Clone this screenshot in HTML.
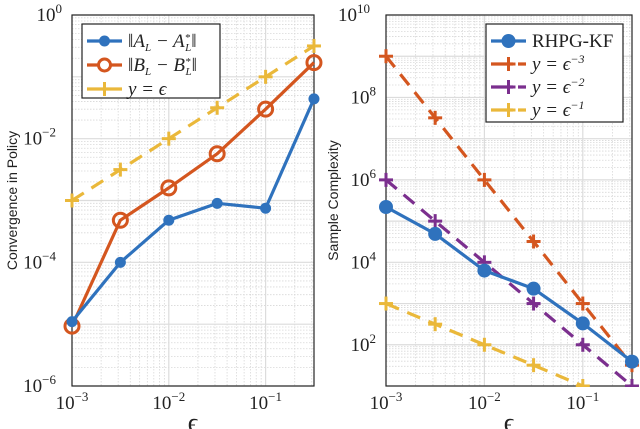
<!DOCTYPE html>
<html><head><meta charset="utf-8"><style>
html,body{margin:0;padding:0;background:#fff;}
svg{display:block;font-family:"Liberation Serif",serif;}
</style></head><body>
<svg id="c" width="640" height="429" viewBox="0 0 640 429"></svg>
<script>
const eps = [1e-3, 3.16e-3, 1e-2, 3.16e-2, 1e-1, 3.16e-1];
const normA = [1.1e-5, 1e-4, 4.8e-4, 9e-4, 7.5e-4, 4.4e-2];
const normB = [9.3e-6, 4.8e-4, 1.6e-3, 5.7e-3, 3e-2, 0.17];
const yEps = [1e-3, 3.16e-3, 1e-2, 3.16e-2, 1e-1, 3.16e-1];
const rhpg = [2.2e5, 4.9e4, 6.3e3, 2.3e3, 3.3e2, 39];
const epsM3 = [1e9, 3.2e7, 1e6, 3.2e4, 1e3, 32];
const epsM2 = [1e6, 1e5, 1e4, 1e3, 1e2, 10];
const epsM1 = [1e3, 316, 100, 32, 10, 3.2];
const xTicks = [-3, -2, -1];
const yTicksL = [-6, -4, -2, 0];
const yTicksR = [2, 4, 6, 8, 10];

const NS = "http://www.w3.org/2000/svg";
const svg = document.getElementById('c');
function el(tag, attrs, parent) {
  const e = document.createElementNS(NS, tag);
  for (const k in attrs) e.setAttribute(k, attrs[k]);
  (parent || svg).appendChild(e);
  return e;
}
const defs = el('defs', {});
function makeAxes(o) {
  const X = v => o.x0 + (Math.log10(v) - o.xmin) / (o.xmax - o.xmin) * (o.x1 - o.x0);
  const Y = v => o.y1 - (Math.log10(v) - o.ymin) / (o.ymax - o.ymin) * (o.y1 - o.y0);
  const cp = el('clipPath', {id: o.name + '-clip'}, defs);
  el('rect', {x: o.x0 - 9, y: o.y0 - 9, width: o.x1 - o.x0 + 18, height: o.y1 - o.y0 + 9 + (o.clipBottom ? 1 : 9)}, cp);
  const g = el('g', {});
  
  
  for (let d = Math.floor(o.xmin); d < o.xmax; d++) for (let m = 2; m <= 9; m++) {
    const v = m * Math.pow(10, d); const x = X(v);
    if (x > o.x0 && x < o.x1) el('line', {x1: x, x2: x, y1: o.y0, y2: o.y1, stroke: '#d8d8d8', 'stroke-width': 0.8, 'stroke-dasharray': '1.5,1.5'}, g);
  }
  for (let d = Math.floor(o.ymin); d < o.ymax; d++) for (let m = 2; m <= 9; m++) {
    const v = m * Math.pow(10, d); const y = Y(v);
    if (y > o.y0 && y < o.y1) el('line', {x1: o.x0, x2: o.x1, y1: y, y2: y, stroke: '#d8d8d8', 'stroke-width': 0.8, 'stroke-dasharray': '1.5,1.5'}, g);
  }
  for (let d = Math.ceil(o.xmin); d <= o.xmax; d++) { const x = X(Math.pow(10, d)); el('line', {x1: x, x2: x, y1: o.y0, y2: o.y1, stroke: '#dcdcdc', 'stroke-width': 1.2}, g); }
  for (let d = Math.ceil(o.ymin); d <= o.ymax; d++) { const y = Y(Math.pow(10, d)); el('line', {x1: o.x0, x2: o.x1, y1: y, y2: y, stroke: '#dcdcdc', 'stroke-width': 1.2}, g); }
  const box = el('rect', {x: o.x0, y: o.y0, width: o.x1 - o.x0, height: o.y1 - o.y0, fill: 'none', stroke: '#262626', 'stroke-width': 1.2});
  
  
  o.xt.forEach(d => {
    const t = el('text', {x: X(Math.pow(10, d)), y: 409, 'text-anchor': 'middle', 'font-size': 19, fill: '#222'});
    
    
    t.innerHTML = '10<tspan dy="-8" font-size="13">' + (d < 0 ? '\u2212' + (-d) : d) + '</tspan>';
  });
  o.yt.forEach(d => {
    const t = el('text', {x: o.x0 - 3 - (String(d).length > 1 ? 13 : 7), y: Y(Math.pow(10, d)) + 6, 'text-anchor': 'end', 'font-size': 19, fill: '#222'});
    
    
    t.innerHTML = '10<tspan dy="-8" font-size="13">' + (d < 0 ? '\u2212' + (-d) : d) + '</tspan>';
  });
  const xl = el('text', {x: (o.x0 + o.x1) / 2, y: 431, 'text-anchor': 'middle', 'font-size': 26, fill: '#222'});
  
  
  xl.textContent = '\u03f5';
  const yl = el('text', {x: 0, y: 0, transform: 'translate(' + o.ylx + ',' + ((o.y0 + o.y1) / 2) + ') rotate(-90)', 'text-anchor': 'middle', 'font-size': 14, 'font-family': 'Liberation Sans, sans-serif', fill: '#222'});
  
  
  yl.textContent = o.ylabel;
  return {X, Y, clip: 'url(#' + o.name + '-clip)'};
}
function plus(g, x, y, col) {
  el('line', {x1: x - 7, x2: x + 7, y1: y, y2: y, stroke: col, 'stroke-width': 3}, g);
  el('line', {x1: x, x2: x, y1: y - 7, y2: y + 7, stroke: col, 'stroke-width': 3}, g);
}
function series(ax, xs, ys, name, col, dash, marker) {
  const g = el('g', {'clip-path': ax.clip});
  
  
  const pts = xs.map((x, i) => ax.X(x) + ',' + ax.Y(ys[i])).join(' ');
  el('polyline', {points: pts, fill: 'none', stroke: col, 'stroke-width': 3.2, 'stroke-dasharray': dash || 'none'}, g);
  xs.forEach((x, i) => {
    const px = ax.X(x), py = ax.Y(ys[i]);
    if (marker === 'dot') el('circle', {cx: px, cy: py, r: 5.5, fill: col}, g);
    else if (marker === 'big') el('circle', {cx: px, cy: py, r: 7, fill: col}, g);
    else if (marker === 'ring') el('circle', {cx: px, cy: py, r: 7, fill: 'none', stroke: col, 'stroke-width': 3}, g);
    else plus(g, px, py, col);
  });
}
const BLUE = '#2f72bd', ORANGE = '#d4561f', YEL = '#eab83a', PURP = '#7b2f8e';

const L = makeAxes({name: 'left-plot', x0: 72, x1: 314, y0: 15, y1: 386, xmin: -3, xmax: -0.5, ymin: -6, ymax: 0, xt: xTicks, yt: yTicksL, ylx: 17, ylabel: 'Convergence in Policy'});
series(L, eps, yEps, 'series-y-eps', YEL, '14,9', 'plus');
series(L, eps, normB, 'series-norm-B', ORANGE, null, 'ring');
series(L, eps, normA, 'series-norm-A', BLUE, null, 'dot');

const R = makeAxes({name: 'right-plot', x0: 386, x1: 632, y0: 15, y1: 386, xmin: -3, xmax: -0.5, ymin: 1, ymax: 10, xt: xTicks, yt: yTicksR, ylx: 338, ylabel: 'Sample Complexity', clipBottom: true});
series(R, eps, epsM3, 'series-eps-neg3', ORANGE, '14,9', 'plus');
series(R, eps, epsM2, 'series-eps-neg2', PURP, '14,9', 'plus');
series(R, eps, epsM1, 'series-eps-neg1', YEL, '14,9', 'plus');
series(R, eps, rhpg, 'series-rhpg-kf', BLUE, null, 'big');

function legend(x, y, w, h, items, name) {
  const g = el('g', {});
  
  
  el('rect', {x: x, y: y, width: w, height: h, fill: '#fff', stroke: '#222', 'stroke-width': 1.2}, g);
  items.forEach((it, i) => {
    const cy = y + 17 + i * it.step;
    const lx0 = x + 5, lx1 = x + 40, mx = (lx0 + lx1) / 2;
    el('line', {x1: lx0, x2: lx1, y1: cy, y2: cy, stroke: it.col, 'stroke-width': 3.2, 'stroke-dasharray': it.dash || 'none'}, g);
    if (it.m === 'dot') el('circle', {cx: mx, cy: cy, r: 5.5, fill: it.col}, g);
    else if (it.m === 'big') el('circle', {cx: mx, cy: cy, r: 7, fill: it.col}, g);
    else if (it.m === 'ring') el('circle', {cx: mx, cy: cy, r: 6, fill: '#fff', stroke: it.col, 'stroke-width': 3}, g);
    else plus(g, mx, cy, it.col);
    const t = el('text', {x: x + 46, y: cy + 6, 'font-size': 19, 'font-style': it.italic ? 'italic' : 'normal', fill: '#222'}, g);
    
    
    t.innerHTML = it.label;
  });
}
legend(82, 24, 138, 74, [
  {col: BLUE, m: 'dot', step: 24, italic: true, label: '\u2016A<tspan font-size="11" dy="4">L</tspan><tspan dy="-4"> \u2212 A</tspan><tspan font-size="11" dy="-6">*</tspan><tspan font-size="11" dx="-5" dy="10">L</tspan><tspan dy="-4">\u2016</tspan>'},
  {col: ORANGE, m: 'ring', step: 24, italic: true, label: '\u2016B<tspan font-size="11" dy="4">L</tspan><tspan dy="-4"> \u2212 B</tspan><tspan font-size="11" dy="-6">*</tspan><tspan font-size="11" dx="-5" dy="10">L</tspan><tspan dy="-4">\u2016</tspan>'},
  {col: YEL, m: 'plus', step: 24, italic: true, label: 'y = \u03f5'}
], 'left-legend');
legend(486, 24, 137, 98, [
  {col: BLUE, m: 'big', step: 23, label: 'RHPG-KF'},
  {col: ORANGE, m: 'plus', dash: '22,5', step: 23, italic: true, label: 'y = \u03f5<tspan font-size="12" dy="-7">\u22123</tspan>'},
  {col: PURP, m: 'plus', dash: '22,5', step: 23, italic: true, label: 'y = \u03f5<tspan font-size="12" dy="-7">\u22122</tspan>'},
  {col: YEL, m: 'plus', dash: '22,5', step: 23, italic: true, label: 'y = \u03f5<tspan font-size="12" dy="-7">\u22121</tspan>'}
], 'right-legend');
</script>
</body></html>
